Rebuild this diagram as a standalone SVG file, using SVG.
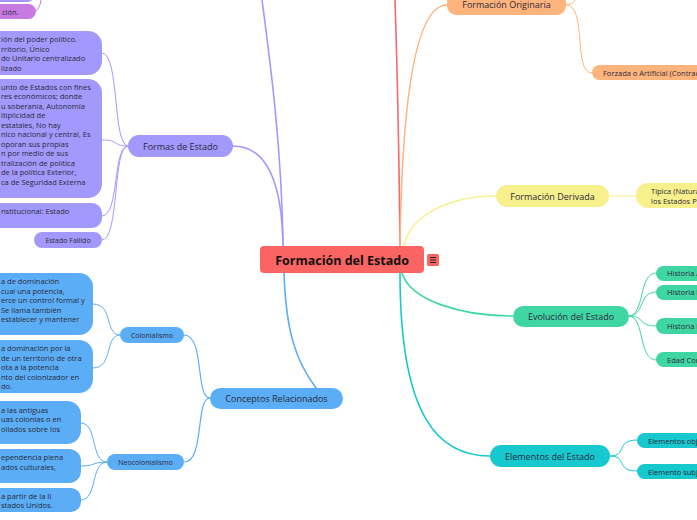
<svg xmlns="http://www.w3.org/2000/svg" width="697" height="520" viewBox="0 0 697 520">
<style>
text{font-family:"Open Sans","Noto Sans","Liberation Sans",sans-serif;fill:#2a2a3a}
.b{font-size:9px;text-anchor:middle}
.s{font-size:7.5px}
.sc{font-size:7px;text-anchor:middle}
.c{fill:none;stroke-linecap:round}
.pu{fill:#a399fc}.puc{stroke:#a399fc}
.bl{fill:#5badf5}.blc{stroke:#5badf5}
.or{fill:#ffb47e}.orc{stroke:#ffb47e}
.ye{fill:#f8f08c}.yec{stroke:#f8f08c}
.gr{fill:#40d6a3}.grc{stroke:#40d6a3}
.te{fill:#17c9cf}.tec{stroke:#17c9cf}
</style>
<rect width="697" height="520" fill="#fff"/>
<g id="connectors">
  <!-- main -->
  <path class="c puc" stroke-width="1.6" d="M283,246 C282,150 270,60 262,0"/>
  <path class="c puc" stroke-width="1.6" d="M283,246 C282,180 265,146 233,146"/>
  <path class="c" stroke="#f76a6a" stroke-width="1.6" d="M400,246 C399,150 397,60 395,0"/>
  <path class="c orc" stroke-width="1.6" d="M400,246 C402,100 415,5 447,5"/>
  <path class="c yec" stroke-width="1.6" d="M404,246 C410,215 450,196 496,196"/>
  <path class="c grc" stroke-width="1.6" d="M402,273 C410,300 460,316 513,316"/>
  <path class="c tec" stroke-width="1.6" d="M400,273 C400,420 440,456 490,456"/>
  <path class="c blc" stroke-width="1.6" d="M284,273 C286,330 295,360 316,388"/>
  <!-- purple children -->
  <path class="c puc" stroke-width="1" d="M128,146 C112,146 120,53 102,53"/>
  <path class="c puc" stroke-width="1" d="M128,146 C112,146 120,140 102,140"/>
  <path class="c puc" stroke-width="1" d="M128,146 C112,146 120,216 102,216"/>
  <path class="c puc" stroke-width="1" d="M128,146 C112,146 120,240 102,240"/>
  <path class="c" stroke="#c77be2" stroke-width="1" d="M33,12 C38,12 40,6 41,0"/>
  <!-- blue children -->
  <path class="c blc" stroke-width="1.2" d="M210,398 C195,398 205,335 184,335"/>
  <path class="c blc" stroke-width="1.2" d="M210,398 C195,398 205,462 184,462"/>
  <path class="c blc" stroke-width="1" d="M120,335 C104,335 114,304 93,304"/>
  <path class="c blc" stroke-width="1" d="M120,335 C104,335 114,368 93,368"/>
  <path class="c blc" stroke-width="1" d="M107,462 C90,462 98,423 81,423"/>
  <path class="c blc" stroke-width="1" d="M107,462 C92,462 96,466 81,466"/>
  <path class="c blc" stroke-width="1" d="M107,462 C90,462 98,500 81,500"/>
  <!-- orange children -->
  <path class="c orc" stroke-width="1" d="M566,5 C580,5 575,-10 580,-20"/>
  <path class="c orc" stroke-width="1" d="M566,5 C588,5 572,73 592,73"/>
  <!-- yellow child -->
  <path class="c yec" stroke-width="1.2" d="M609,196 L636,196"/>
  <!-- green children -->
  <path class="c grc" stroke-width="1" d="M629,316 C645,316 638,273 656,273"/>
  <path class="c grc" stroke-width="1" d="M629,316 C645,316 638,292 656,292"/>
  <path class="c grc" stroke-width="1" d="M629,316 C645,316 638,326 656,326"/>
  <path class="c grc" stroke-width="1" d="M629,316 C645,316 638,360 656,360"/>
  <!-- teal children -->
  <path class="c tec" stroke-width="1" d="M610,456 C628,456 615,440 637,440"/>
  <path class="c tec" stroke-width="1" d="M610,456 C628,456 615,471 637,471"/>
</g>

<g id="center">
  <rect x="260" y="246" width="164" height="27" rx="4" fill="#fa6462"/>
  <text x="342" y="264.5" style="font-size:12.5px;font-weight:bold;text-anchor:middle;fill:#111">Formación del Estado</text>
  <rect x="427" y="254" width="12" height="12" rx="1.5" fill="#fa6462"/>
  <path d="M430,257.5 h6 M430,260 h6 M430,262.5 h6" stroke="#222" stroke-width="1"/>
</g>

<!-- purple -->
<g id="top-cut">
  <rect x="-20" y="-20" width="55" height="22" rx="8" class="pu"/>
</g>
<g id="cion">
  <rect x="-20" y="4" width="56" height="15" rx="7.5" fill="#c77be2"/>
  <text x="2" y="14.5" class="s">ción.</text>
</g>
<g id="formas">
  <rect x="128" y="135" width="105" height="22" rx="11" class="pu"/>
  <text x="180.5" y="149.5" class="b">Formas de Estado</text>
</g>
<g id="p1">
  <rect x="-20" y="31" width="122" height="44" rx="14" class="pu"/>
  <text class="s" x="1" y="42">ión del poder político.</text>
  <text class="s" x="1" y="51.5">rritorio, Único</text>
  <text class="s" x="1" y="61">do Unitario centralizado</text>
  <text class="s" x="1" y="70.5">lizado</text>
</g>
<g id="p2">
  <rect x="-20" y="79" width="122" height="119" rx="14" class="pu"/>
  <text class="s" x="1" y="89.5">unto de Estados con fines</text>
  <text class="s" x="1" y="99">res económicos; donde</text>
  <text class="s" x="1" y="108.5">u soberanía, Autonomía</text>
  <text class="s" x="1" y="118">ltiplicidad de</text>
  <text class="s" x="1" y="127.5">estatales, No hay</text>
  <text class="s" x="1" y="137">nico nacional y central, Es</text>
  <text class="s" x="1" y="146.5">oporan sus propias</text>
  <text class="s" x="1" y="156">n por medio de sus</text>
  <text class="s" x="1" y="165.5">tralización de política</text>
  <text class="s" x="1" y="175"> de la política Exterior,</text>
  <text class="s" x="1" y="184.5">ca de Seguridad Externa</text>
</g>
<g id="p3">
  <rect x="-20" y="203" width="122" height="25" rx="10" class="pu"/>
  <text class="s" x="1" y="214">nstitucional: Estado</text>
</g>
<g id="fallido">
  <rect x="34" y="232" width="68" height="16" rx="8" class="pu"/>
  <text class="sc" x="68" y="242.5">Estado Fallido</text>
</g>

<!-- blue -->
<g id="conceptos">
  <rect x="210" y="388" width="133" height="21" rx="10.5" class="bl"/>
  <text x="276.5" y="401.5" class="b">Conceptos Relacionados</text>
</g>
<g id="colonialismo">
  <rect x="120" y="327" width="64" height="16" rx="8" class="bl"/>
  <text x="152" y="337.5" class="sc">Colonialismo</text>
</g>
<g id="neocolonialismo">
  <rect x="107" y="454" width="77" height="16" rx="8" class="bl"/>
  <text x="145.5" y="464.5" class="sc">Neocolonialismo</text>
</g>
<g id="b1">
  <rect x="-20" y="273" width="113" height="62" rx="14" class="bl"/>
  <text class="s" x="1" y="284">a de dominación</text>
  <text class="s" x="1" y="293.5"> cual una potencia,</text>
  <text class="s" x="1" y="303">erce un control formal y</text>
  <text class="s" x="1" y="312.5">Se llama también</text>
  <text class="s" x="1" y="322"> establecer y mantener</text>
</g>
<g id="b2">
  <rect x="-20" y="340" width="113" height="53" rx="14" class="bl"/>
  <text class="s" x="1" y="351">a dominación por la</text>
  <text class="s" x="1" y="360.5">de un territorio de otra</text>
  <text class="s" x="1" y="370">ota a la potencia</text>
  <text class="s" x="1" y="379.5">nto del colonizador en</text>
  <text class="s" x="1" y="389">do.</text>
</g>
<g id="b3">
  <rect x="-20" y="401" width="101" height="43" rx="14" class="bl"/>
  <text class="s" x="1" y="412.5">a las antiguas</text>
  <text class="s" x="1" y="422">uas colonias o en</text>
  <text class="s" x="1" y="431.5">ollados sobre los</text>
</g>
<g id="b4">
  <rect x="-20" y="449" width="101" height="34" rx="12" class="bl"/>
  <text class="s" x="1" y="460">ependencia plena</text>
  <text class="s" x="1" y="469.5">ados  culturales,</text>
</g>
<g id="b5">
  <rect x="-20" y="488" width="101" height="24" rx="10" class="bl"/>
  <text class="s" x="1" y="498.5"> a partir de la II</text>
  <text class="s" x="1" y="508">stados Unidos.</text>
</g>

<!-- orange -->
<g id="originaria">
  <rect x="447" y="-7" width="119" height="22" rx="9" class="or"/>
  <text x="506.5" y="8" class="b">Formación Originaria</text>
</g>
<g id="forzada">
  <rect x="592" y="65" width="125" height="15" rx="7.5" class="or"/>
  <text x="603" y="75.5" class="s">Forzada o Artificial (Contract</text>
</g>

<!-- yellow -->
<g id="derivada">
  <rect x="496" y="185" width="113" height="22" rx="11" class="ye"/>
  <text x="552.5" y="199.5" class="b">Formación Derivada</text>
</g>
<g id="tipica">
  <rect x="636" y="183" width="80" height="25" rx="12" class="ye"/>
  <text class="s" x="651" y="194">Típica (Natura</text>
  <text class="s" x="651" y="203.5">los Estados Pr</text>
</g>

<!-- green -->
<g id="evolucion">
  <rect x="513" y="306" width="116" height="21" rx="10.5" class="gr"/>
  <text x="571" y="320" class="b">Evolución del Estado</text>
</g>
<g id="h1">
  <rect x="656" y="266" width="60" height="15" rx="7.5" class="gr"/>
  <text class="s" x="667" y="276">Historia A</text>
</g>
<g id="h2">
  <rect x="656" y="285" width="60" height="15" rx="7.5" class="gr"/>
  <text class="s" x="667" y="295">Historia M</text>
</g>
<g id="h3">
  <rect x="656" y="318" width="60" height="16" rx="8" class="gr"/>
  <text class="s" x="667" y="328.5">Historia M</text>
</g>
<g id="h4">
  <rect x="656" y="352" width="60" height="15" rx="7.5" class="gr"/>
  <text class="s" x="667" y="362.5">Edad Con</text>
</g>

<!-- teal -->
<g id="elementos">
  <rect x="490" y="445" width="120" height="22" rx="11" class="te"/>
  <text x="550" y="459.5" class="b">Elementos del Estado</text>
</g>
<g id="e1">
  <rect x="637" y="433" width="80" height="15" rx="7.5" class="te"/>
  <text class="s" x="648" y="443.5">Elementos obje</text>
</g>
<g id="e2">
  <rect x="637" y="464" width="80" height="15" rx="7.5" class="te"/>
  <text class="s" x="648" y="474.5">Elemento subje</text>
</g>
</svg>
